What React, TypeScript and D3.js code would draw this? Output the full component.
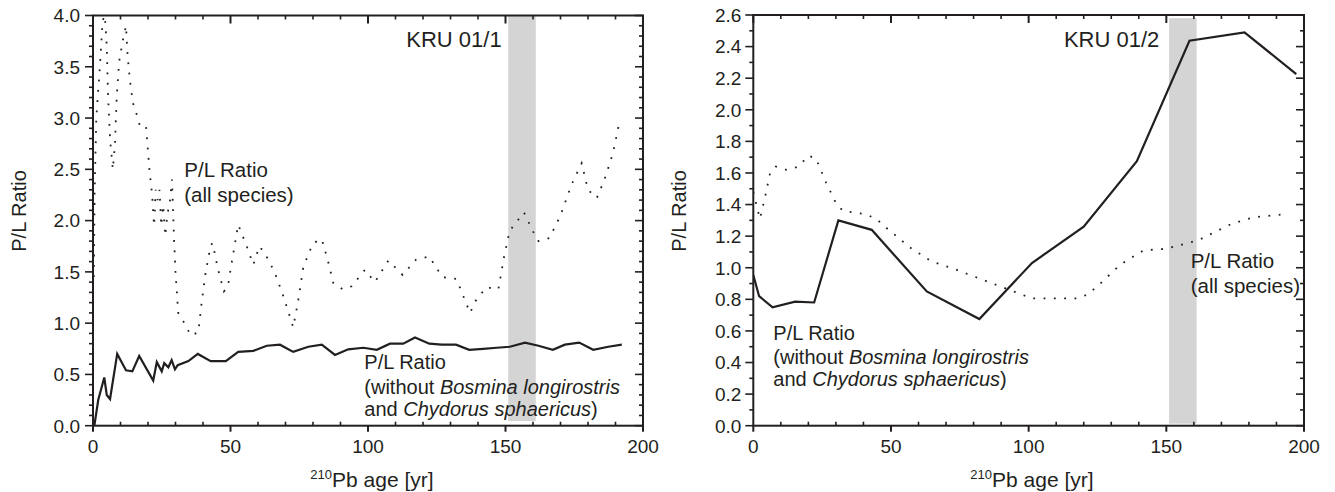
import React from "react";
import * as d3 from "d3";

// ---------- DATA ----------
const xMajorTicks = [0, 50, 100, 150, 200];
const leftYTicks = [0, 0.5, 1.0, 1.5, 2.0, 2.5, 3.0, 3.5, 4.0];
const rightYTicks = [0, 0.2, 0.4, 0.6, 0.8, 1.0, 1.2, 1.4, 1.6, 1.8, 2.0, 2.2, 2.4, 2.6];
const bandRange = [151, 161];

// KRU 01/1 : P/L ratio without Bosmina longirostris and Chydorus sphaericus
const kru1WithoutAge = [0.5, 1.9, 4.1, 5.0, 6.2, 8.8, 12.0, 14.3, 16.8, 21.9, 23.2, 25.0, 25.9, 27.4, 28.6, 29.8, 30.8, 34.7, 38.1, 42.8, 48.3, 52.8, 58.3, 63.2, 68.0, 72.8, 78.3, 83.2, 88.0, 92.8, 98.3, 103.2, 108.0, 112.8, 117.1, 122.3, 126.8, 132.0, 136.8, 141.9, 146.8, 151.6, 157.1, 162.0, 167.2, 171.6, 176.8, 181.9, 187.4, 192.3];
const kru1WithoutRatio = [0, 0.25, 0.47, 0.30, 0.26, 0.70, 0.54, 0.53, 0.68, 0.44, 0.62, 0.53, 0.61, 0.57, 0.64, 0.55, 0.59, 0.63, 0.70, 0.63, 0.63, 0.72, 0.73, 0.78, 0.79, 0.72, 0.77, 0.79, 0.69, 0.745, 0.76, 0.74, 0.80, 0.80, 0.86, 0.80, 0.79, 0.79, 0.74, 0.75, 0.76, 0.77, 0.81, 0.78, 0.74, 0.79, 0.81, 0.74, 0.77, 0.79];

// KRU 01/1 : P/L ratio, all species
const kru1AllAge = [0.3, 0.6, 1.2, 2.5, 3.5, 4.3, 5.0, 5.5, 6.2, 7.2, 8.0, 8.6, 9.5, 10.8, 12.0, 12.6, 13.5, 14.5, 16.2, 17.1, 19.3, 20.5, 21.5, 22.2, 22.8, 23.5, 24.2, 24.8, 25.5, 26.3, 27.0, 28.0, 28.7, 29.5, 30.0, 30.5, 31.0, 33.7, 35.5, 38.3, 39.5, 41.0, 42.8, 43.5, 45.5, 47.6, 49.0, 50.5, 52.8, 55.9, 58.3, 60.5, 62.5, 66.0, 69.0, 72.8, 74.5, 76.5, 80.0, 83.2, 85.5, 87.4, 90.8, 94.1, 98.9, 102.5, 107.4, 112.6, 117.5, 122.3, 127.0, 132.2, 137.1, 139.2, 143.0, 147.4, 149.5, 151.5, 156.7, 160.1, 162.0, 166.0, 170.0, 174.0, 177.7, 180.0, 183.2, 186.0, 189.0, 191.6];
const kru1AllRatio = [1.45, 2.3, 3.0, 3.5, 3.95, 4.0, 3.7, 3.2, 2.8, 2.5, 2.75, 3.2, 3.55, 3.75, 3.9, 3.6, 3.35, 3.15, 3.01, 2.92, 2.92, 2.5, 2.25, 1.95, 2.3, 2.2, 2.3, 1.95, 2.15, 1.85, 2.05, 2.2, 2.4, 1.8, 1.5, 1.3, 1.1, 0.98, 0.88, 0.91, 1.2, 1.5, 1.76, 1.78, 1.52, 1.31, 1.35, 1.6, 1.96, 1.75, 1.57, 1.75, 1.68, 1.5, 1.28, 0.96, 1.2, 1.55, 1.78, 1.82, 1.6, 1.39, 1.33, 1.36, 1.52, 1.40, 1.61, 1.47, 1.62, 1.65, 1.45, 1.43, 1.10, 1.22, 1.35, 1.33, 1.65, 1.9, 2.08, 1.89, 1.80, 1.83, 2.05, 2.35, 2.56, 2.3, 2.22, 2.4, 2.65, 2.98];

// KRU 01/2 : P/L ratio without Bosmina longirostris and Chydorus sphaericus
const kru2WithoutAge = [0, 2.1, 7.0, 15.2, 22.1, 30.9, 43.0, 63.0, 82.1, 101.2, 120.0, 139.3, 158.4, 178.4, 197.2];
const kru2WithoutRatio = [0.954, 0.82, 0.75, 0.785, 0.78, 1.30, 1.24, 0.85, 0.675, 1.03, 1.26, 1.675, 2.437, 2.49, 2.226];

// KRU 01/2 : P/L ratio, all species
const kru2AllAge = [0, 2.4, 4.3, 6.1, 8.2, 12.1, 16.4, 20.0, 22.8, 26.4, 30.0, 32.5, 40.6, 44.6, 48.5, 52.7, 56.7, 64.8, 73.3, 85.4, 93.0, 101.2, 117.5, 121.4, 125.4, 133.3, 141.7, 150.0, 161.7, 173.6, 181.9, 194.0];
const kru2AllRatio = [1.48, 1.31, 1.45, 1.60, 1.64, 1.62, 1.64, 1.71, 1.69, 1.54, 1.41, 1.36, 1.34, 1.31, 1.25, 1.19, 1.13, 1.04, 0.99, 0.91, 0.86, 0.806, 0.806, 0.83, 0.89, 1.02, 1.11, 1.12, 1.175, 1.277, 1.32, 1.34];

// ---------- RENDERING ----------
const FONT = "'Liberation Sans', Arial, Helvetica, sans-serif";
const INK = "#231f20";

type PanelProps = {
  id: string;
  x0: number; x1: number; y0: number; y1: number;
  yMax: number;
  yTicks: number[];
  yLabelFmt: (v: number) => string;
  solidAge: number[]; solidVal: number[];
  dotAge: number[]; dotVal: number[];
  bandTop: number; bandBottom: number;
  titleX: number;
  yTitleX: number;
  labelOffset: number;
  children?: React.ReactNode;
};

function Panel(p: PanelProps) {
  const x = d3.scaleLinear().domain([0, 200]).range([p.x0, p.x1]);
  const y = d3.scaleLinear().domain([0, p.yMax]).range([p.y1, p.y0]);
  const line = d3.line<[number, number]>().x(d => x(d[0])).y(d => y(d[1]));
  const solid = line(p.solidAge.map((a, i) => [a, p.solidVal[i]]) as [number, number][]) || "";
  const dotted = line(p.dotAge.map((a, i) => [a, p.dotVal[i]]) as [number, number][]) || "";
  const xMinor = d3.range(0, 201, 10).filter(v => v % 50 !== 0);
  const yMinor = d3.range(0, Math.round(p.yMax * 10) + 1).map(v => v / 10);
  const majorSet = new Set(p.yTicks.map(v => Math.round(v * 10)));
  const clipId = `clip-${p.id}`;
  return (
    <g>
      <defs>
        <clipPath id={clipId}>
          <rect x={p.x0} y={p.y0 - 1} width={p.x1 - p.x0} height={p.y1 - p.y0 + 1} />
        </clipPath>
      </defs>
      {/* grey band */}
      <rect x={x(bandRange[0])} width={x(bandRange[1]) - x(bandRange[0])}
        y={y(p.bandTop)} height={y(p.bandBottom) - y(p.bandTop)} fill="#d4d4d4" />
      {/* data lines */}
      <g clipPath={`url(#${clipId})`}>
        <path d={dotted} fill="none" stroke={INK} strokeWidth={1.8} strokeDasharray="1.8 8.5" />
        <path d={solid} fill="none" stroke={INK} strokeWidth={2.2} strokeLinejoin="miter" />
      </g>
      {/* frame */}
      <rect x={p.x0} y={p.y0} width={p.x1 - p.x0} height={p.y1 - p.y0} fill="none" stroke={INK} strokeWidth={2} />
      {/* bottom / top axis ticks */}
      {xMajorTicks.map(v => (
        <g key={`xb${v}`}>
          <line x1={x(v)} x2={x(v)} y1={p.y1} y2={p.y1 + 6} stroke={INK} strokeWidth={2} />
          <line x1={x(v)} x2={x(v)} y1={p.y0} y2={p.y0 + 8} stroke={INK} strokeWidth={2} />
          <text x={x(v)} y={453} textAnchor="middle" fontSize={19} fontFamily={FONT} fill={INK}>{v}</text>
        </g>
      ))}
      {xMinor.map(v => (
        <g key={`xm${v}`}>
          <line x1={x(v)} x2={x(v)} y1={p.y1} y2={p.y1 - 4} stroke={INK} strokeWidth={1.6} />
          <line x1={x(v)} x2={x(v)} y1={p.y0} y2={p.y0 + 4} stroke={INK} strokeWidth={1.6} />
        </g>
      ))}
      {/* y ticks */}
      {yMinor.map(v => {
        const major = majorSet.has(Math.round(v * 10));
        return (
          <g key={`ym${v}`}>
            <line x1={p.x0} x2={p.x0 - (major ? 8 : 4)} y1={y(v)} y2={y(v)} stroke={INK} strokeWidth={1.6} />
            <line x1={p.x1} x2={p.x1 - (major ? 8 : 4)} y1={y(v)} y2={y(v)} stroke={INK} strokeWidth={1.6} />
          </g>
        );
      })}
      {p.yTicks.map(v => (
        <text key={`yl${v}`} x={p.x0 - p.labelOffset} y={y(v)} dy="0.36em" textAnchor="end"
          fontSize={19} fontFamily={FONT} fill={INK}>{p.yLabelFmt(v)}</text>
      ))}
      {/* axis titles */}
      <text transform={`translate(${p.yTitleX},211) rotate(-90)`} textAnchor="middle"
        fontSize={20} fontFamily={FONT} fill={INK}>P/L Ratio</text>
      <text x={p.titleX} y={486.7} textAnchor="middle" fontFamily={FONT} fill={INK}>
        <tspan fontSize={13} dy="-8">210</tspan>
        <tspan fontSize={21} dy="8">Pb age [yr]</tspan>
      </text>
      {p.children}
    </g>
  );
}

function Label({ x, y, lines, anchor = "start", size = 20 }:
  { x: number; y: number[]; lines: React.ReactNode[]; anchor?: string; size?: number }) {
  return (
    <g>
      {lines.map((l, i) => (
        <text key={i} x={x} y={y[i]} textAnchor={anchor as any} fontSize={size} fontFamily={FONT} fill={INK}>{l}</text>
      ))}
    </g>
  );
}

export default function App() {
  const fmt1 = (v: number) => v.toFixed(1);
  return (
    <svg width={1335} height={492} style={{ position: "absolute", left: 0, top: 0, background: "#fff" }}>
      <rect x={0} y={0} width={1335} height={492} fill="#fff" />
      <Panel id="l" x0={93} x1={643} y0={15.5} y1={425.7} yMax={4} yTicks={leftYTicks} yLabelFmt={fmt1}
        solidAge={kru1WithoutAge} solidVal={kru1WithoutRatio} dotAge={kru1AllAge} dotVal={kru1AllRatio}
        bandTop={4} bandBottom={0.045} titleX={372} yTitleX={26} labelOffset={13}>
        <Label x={501.7} y={[46.7]} anchor="end" size={22} lines={["KRU 01/1"]} />
        <Label x={184.3} y={[176.7, 201.7]} size={20.5} lines={["P/L Ratio", "(all species)"]} />
        <Label x={364.3} y={[369.3, 393.8, 415.8]} lines={[
          "P/L Ratio",
          <>(without <tspan fontStyle="italic">Bosmina longirostris</tspan></>,
          <>and <tspan fontStyle="italic">Chydorus sphaericus</tspan>)</>,
        ]} />
      </Panel>
      <Panel id="r" x0={753.3} x1={1304} y0={15} y1={425.7} yMax={2.6} yTicks={rightYTicks} yLabelFmt={fmt1}
        solidAge={kru2WithoutAge} solidVal={kru2WithoutRatio} dotAge={kru2AllAge} dotVal={kru2AllRatio}
        bandTop={2.58} bandBottom={0.013} titleX={1032} yTitleX={686} labelOffset={12}>
        <Label x={1159.3} y={[46.7]} anchor="end" size={22} lines={["KRU 01/2"]} />
        <Label x={1190.7} y={[268.3, 293.3]} size={20.5} lines={["P/L Ratio", "(all species)"]} />
        <Label x={773.3} y={[340, 364.3, 385.7]} lines={[
          "P/L Ratio",
          <>(without <tspan fontStyle="italic">Bosmina longirostris</tspan></>,
          <>and <tspan fontStyle="italic">Chydorus sphaericus</tspan>)</>,
        ]} />
      </Panel>
    </svg>
  );
}
